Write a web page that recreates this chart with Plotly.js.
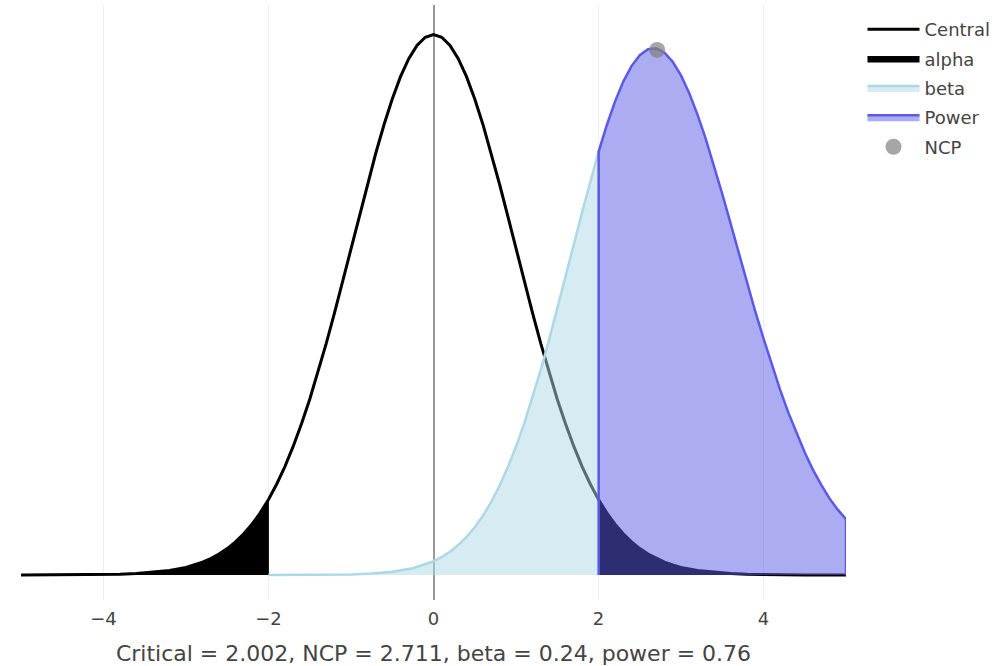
<!DOCTYPE html>
<html>
<head>
<meta charset="utf-8">
<script src="https://cdn.plot.ly/plotly-3.0.1.min.js"></script>
<style>html,body{margin:0;padding:0;background:#fff;}#chart{width:1008px;height:666px;}</style>
</head>
<body>
<div id="chart"></div>
<script>
// Summary values
const critical = 2.002;
const ncp = 2.711;
const ncpPeak = 0.386;
const titleText = 'Critical = 2.002, NCP = 2.711, beta = 0.24, power = 0.76';

// Central t density, x from -5 to 5
const centralX = [-5,-4.75,-4.5,-4.25,-4,-3.8,-3.6,-3.4,-3.2,-3,-2.9,-2.8,-2.7,-2.6,-2.5,-2.4,-2.3,-2.2,-2.1,-2.002,-2,-1.9,-1.8,-1.7,-1.6,-1.5,-1.4,-1.3,-1.2,-1.1,-1,-0.9,-0.8,-0.7,-0.6,-0.5,-0.4,-0.3,-0.2,-0.1,
  0,0.1,0.2,0.3,0.4,0.5,0.6,0.7,0.8,0.9,1,1.1,1.2,1.3,1.4,1.5,1.6,1.7,1.8,1.9,2,2.002,2.1,2.2,2.3,2.4,2.5,2.6,2.7,2.8,2.9,3,3.2,3.4,3.6,3.8,4,4.25,4.5,4.75,5];
const centralY = [0.00001,0.00003,0.00006,0.00013,0.0003,0.00056,0.0010,0.0019,0.0033,0.0056,0.0073,0.0094,0.0121,0.0154,0.0194,0.0243,0.0303,0.0373,0.0457,0.0553,0.0555,0.0669,0.0799,0.0947,0.1111,0.1292,0.1490,0.1703,0.1927,0.2161,0.2399,0.2639,0.2874,0.3100,0.3310,0.3499,0.3663,0.3795,0.3893,0.3953,
  0.3973,0.3953,0.3893,0.3795,0.3663,0.3499,0.3310,0.3100,0.2874,0.2639,0.2399,0.2161,0.1927,0.1703,0.1490,0.1292,0.1111,0.0947,0.0799,0.0669,0.0555,0.0553,0.0457,0.0373,0.0303,0.0243,0.0194,0.0154,0.0121,0.0094,0.0073,0.0056,0.0033,0.0019,0.0010,0.00056,0.0003,0.00013,0.00006,0.00003,0.00001];

// Non-central t density, x from -2 to 5
const ncX = [-2.002,-1.75,-1.5,-1.25,-1,-0.75,-0.5,-0.25,0,0.1,0.2,0.3,0.4,0.5,0.6,0.7,0.8,0.9,1,1.1,1.2,1.3,1.4,1.5,1.6,1.7,1.8,1.9,2,2.002,
  2.1,2.2,2.3,2.4,2.5,2.6,2.7,2.8,2.9,3,3.1,3.2,3.3,3.4,3.5,3.6,3.7,3.8,3.9,4,4.1,4.2,4.3,4.4,4.5,4.6,4.7,4.8,4.9,5];
const ncY = [0.00001,0.00003,0.0001,0.0002,0.0004,0.0011,0.0023,0.0050,0.0101,0.0132,0.0171,0.0220,0.0279,0.0351,0.0437,0.0538,0.0656,0.0791,0.0944,0.1115,0.1304,0.1508,0.1726,0.1954,0.2190,0.2428,0.2664,0.2893,0.3109,0.3113,
  0.3306,0.3480,0.3627,0.3741,0.3821,0.3865,0.3871,0.3839,0.3772,0.3672,0.3541,0.3384,0.3206,0.3010,0.2802,0.2586,0.2367,0.2150,0.1937,0.1740,0.1546,0.1364,0.1195,0.1040,0.0900,0.0773,0.0662,0.0563,0.0480,0.0410];

const centralColor = 'black';
const alphaColor = 'black';
const betaColor = 'lightblue';
const powerColor = 'rgb(90,90,230)';

// Build region traces from the arrays
function pick(xs, ys, lo, hi) {
  const ox = [], oy = [];
  for (let i = 0; i < xs.length; i++) {
    if (xs[i] >= lo - 1e-9 && xs[i] <= hi + 1e-9) { ox.push(xs[i]); oy.push(ys[i]); }
  }
  return {x: ox, y: oy};
}
const leftTail = pick(centralX, centralY, -5, -critical);
const rightTail = pick(centralX, centralY, critical, 5);
const alphaX = [].concat(leftTail.x, [-critical, null, critical], rightTail.x, [5]);
const alphaY = [].concat(leftTail.y, [0, null, 0], rightTail.y, [0]);

const betaPart = pick(ncX, ncY, -critical, critical);
const powerPart = pick(ncX, ncY, critical, 5);
const powerX = [].concat([critical], powerPart.x, [5]);
const powerY = [].concat([0], powerPart.y, [0]);

const traces = [
  {x: centralX, y: centralY, type: 'scatter', mode: 'lines', name: 'Central', legendgroup: 'g1',
   line: {color: centralColor, width: 3}},
  {x: alphaX, y: alphaY, type: 'scatter', mode: 'lines', name: 'alpha', legendgroup: 'g2',
   fill: 'toself', fillcolor: alphaColor, connectgaps: false,
   line: {color: alphaColor, width: 1}},
  {x: betaPart.x, y: betaPart.y, type: 'scatter', mode: 'lines', name: 'beta', legendgroup: 'g3',
   fill: 'tozeroy', fillcolor: 'rgba(173,216,230,0.5)',
   line: {color: betaColor, width: 2.5}},
  {x: powerX, y: powerY, type: 'scatter', mode: 'lines', name: 'Power', legendgroup: 'g4',
   fill: 'toself', fillcolor: 'rgba(90,90,230,0.5)',
   line: {color: powerColor, width: 2.5}},
  {x: [ncp], y: [ncpPeak], type: 'scatter', mode: 'markers', name: 'NCP', legendgroup: 'g5',
   marker: {color: 'gray', size: 16, opacity: 0.7}}
];

const fontFamily = 'Verdana, "DejaVu Sans", sans-serif';
const layout = {
  width: 1008, height: 666,
  margin: {l: 21, r: 162, t: 5, b: 66},
  paper_bgcolor: 'white', plot_bgcolor: 'white',
  font: {family: fontFamily, color: '#444', size: 18},
  showlegend: true,
  legend: {x: 1.02, y: 0.99, yanchor: 'top', font: {size: 18}, tracegroupgap: 3, itemwidth: 52},
  xaxis: {
    range: [-5, 5], dtick: 2, showgrid: true, gridcolor: '#eee', gridwidth: 1,
    zeroline: true, zerolinecolor: '#999', zerolinewidth: 2,
    showline: false, ticks: '', tickfont: {size: 18}, ticklabelstandoff: 6,
    title: {text: titleText, font: {size: 22}, standoff: 17}
  },
  yaxis: {
    range: [-0.0184, 0.419], showgrid: false, zeroline: false,
    showticklabels: false, showline: false, ticks: ''
  }
};

Plotly.newPlot('chart', traces, layout, {displayModeBar: false, staticPlot: true});
</script>
</body>
</html>
